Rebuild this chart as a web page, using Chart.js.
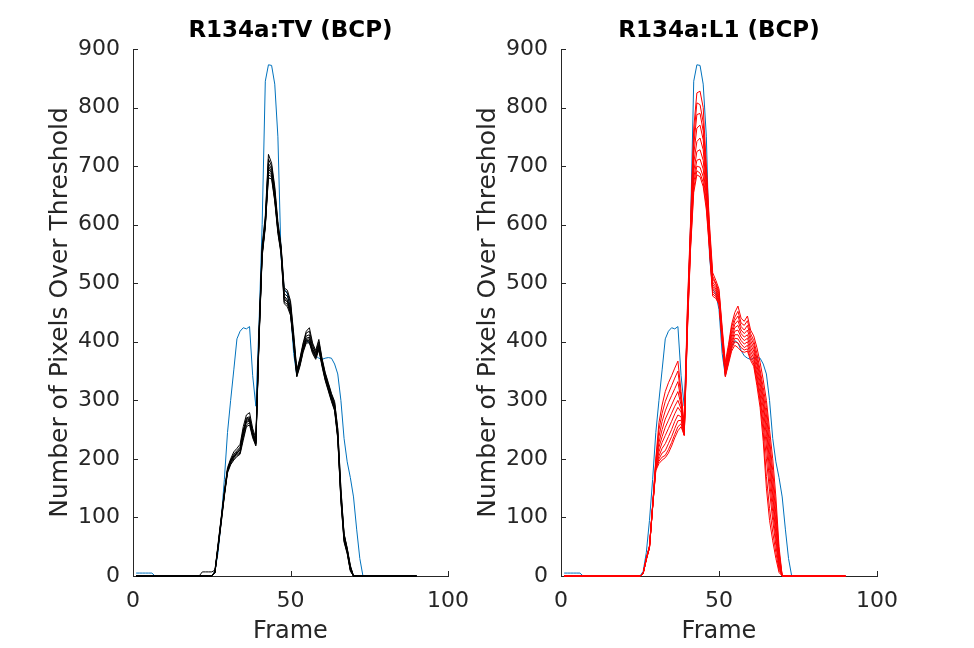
<!DOCTYPE html>
<html>
<head>
<meta charset="utf-8">
<script src="https://cdn.jsdelivr.net/npm/chart.js@4"></script>
<style>
  body { margin: 0; background: #fff; }
  #wrap { position: relative; width: 974px; height: 648px; }
  canvas { position: absolute; left: 0; top: 0; }
</style>
</head>
<body>
<div id="wrap">
  <canvas id="tvChart" width="974" height="648"></canvas>
  <canvas id="l1Chart" width="974" height="648"></canvas>
</div>
<script>
// reference curve (blue), frames 1..74
var refFrames1 = [5,5,5,5,5,5,0,
    0,0,0,0,0,0,0,0,0,0,0,0,0,0,0,0,0,0,
    8,40,95,165,245,300,352,405,418,424,422,426,342,290,
    430,600,845,873,872,840,750,545,490,482,
    455,380,342,365,392,402,398,385,376,372,
    370,372,373,372,362,345,300,235,195,168,
    135,80,30,0,0];

// runs start at frame 20 (frames 20..72)
var runStart = 20;
var lastFrame = 90;

var tv1 = [0,0,0,0,0,0, 8,55,100,145,185,200,212,218,225,255,275,279,252,235, 420,565,615,720,705,665,605,565,492,488, 470,415,352,372,398,418,424,398,385,404, 372,348,330,312,298,252,150,72,48,18, 0,0,0];
var tv2 = [0,0,7,7,7,7, 10,50,95,140,180,195,205,210,215,245,270,272,248,230, 415,560,610,712,700,660,600,562,488,484, 466,410,350,370,395,415,418,395,382,400, 370,346,328,310,296,250,148,70,46,16, 0,0,0];
var tv3 = [0,0,0,0,0,0, 6,48,92,138,178,192,200,206,210,240,266,268,245,228, 410,555,605,705,695,655,598,560,482,478, 460,405,348,368,392,410,412,392,380,396, 368,344,326,308,292,245,140,68,44,14, 0,0,0];
var tv4 = [0,0,0,0,0,0, 5,52,98,142,182,198,208,214,220,250,262,265,240,226, 405,550,600,700,690,650,595,558,478,472, 456,402,346,366,390,406,408,388,378,394, 366,342,324,306,290,242,138,72,46,16, 0,0,0];
var tv5 = [0,0,0,0,0,0, 7,50,96,140,180,196,203,208,212,236,258,262,238,224, 402,548,598,695,688,648,592,556,475,470, 452,400,345,364,388,404,405,386,376,392, 364,340,322,304,288,240,135,65,42,12, 0,0,0];
var tv6 = [0,0,0,0,0,0, 6,49,94,139,179,194,202,212,218,248,268,270,244,228, 408,552,602,690,685,645,590,555,472,468, 450,398,344,362,386,402,402,384,374,390, 362,338,320,302,286,238,132,62,40,10, 0,0,0];
var tv7 = [0,0,0,0,0,0, 5,47,90,136,176,190,198,204,208,232,255,258,236,222, 400,545,595,685,682,642,588,552,468,464, 448,396,342,360,384,400,400,382,372,388, 360,336,318,300,284,236,130,60,40,10, 0,0,0];
var tv8 = [0,0,0,0,0,0, 6,51,97,141,181,197,206,210,216,244,264,266,242,226, 406,550,600,680,678,640,585,550,465,460, 445,394,340,358,382,398,398,380,370,386, 358,334,316,298,282,234,128,58,38,8, 0,0,0];

var l1a = [0,0,0,0,0,0, 5,30,50,120,200,262,292,315,330,342,355,367,315,258, 460,605,765,825,828,800,700,600,518,505, 490,425,365,395,430,450,461,440,435,444, 420,410,390,365,335,300,250,200,135,50, 0,0,0];
var l1b = [0,0,0,0,0,0, 5,28,48,118,196,250,278,298,312,325,338,350,305,252, 452,598,748,808,805,775,690,592,512,500, 486,420,360,390,425,442,452,432,428,436, 414,402,380,352,322,288,235,180,118,42, 0,0,0];
var l1c = [0,0,0,0,0,0, 4,30,52,122,194,238,264,282,296,308,320,332,298,250, 445,590,735,788,790,760,680,585,508,498, 482,416,356,386,418,436,444,426,420,428, 408,396,372,345,312,275,222,165,105,38, 0,0,0];
var l1d = [0,0,0,0,0,0, 5,29,50,119,190,228,250,268,280,292,304,315,292,248, 440,585,720,765,770,745,672,580,502,494, 478,412,352,382,412,430,436,420,414,420, 402,390,366,338,304,262,208,150,92,32, 0,0,0];
var l1e = [0,0,0,0,0,0, 4,28,49,117,188,220,238,254,266,278,290,300,285,246, 436,580,705,742,748,728,664,575,498,490, 475,410,350,378,406,424,428,414,408,412, 396,384,360,330,295,250,195,138,82,26, 0,0,0];
var l1f = [0,0,0,0,0,0, 5,30,51,120,186,212,228,240,252,264,277,288,280,244, 432,575,690,725,728,710,655,570,494,487, 472,408,348,375,400,418,420,408,402,406, 390,378,352,322,285,238,180,125,72,22, 0,0,0];
var l1g = [0,0,0,0,0,0, 4,29,48,118,184,205,218,226,238,250,264,275,272,242, 428,570,680,710,712,695,648,566,490,484, 470,406,346,372,396,412,412,402,396,400, 384,372,345,312,272,222,162,110,62,18, 0,0,0];
var l1h = [0,0,0,0,0,0, 5,28,50,119,183,200,210,214,226,238,252,265,266,241, 424,566,672,700,698,682,640,562,486,480, 468,404,344,370,392,406,405,396,390,394, 378,366,338,304,260,200,145,95,52,14, 0,0,0];
var l1i = [0,0,0,0,0,0, 4,30,49,118,182,196,203,206,216,228,242,255,260,240, 420,562,662,692,688,672,632,558,482,477, 466,402,342,366,388,400,398,390,386,388, 372,362,332,298,245,170,115,75,40,10, 0,0,0];
var l1j = [0,0,0,0,0,0, 5,29,48,117,180,192,198,202,210,222,236,248,255,240, 416,558,655,685,682,665,625,555,478,474, 464,400,340,362,384,394,390,384,382,384, 368,358,325,288,230,150,95,60,30,6, 0,0,0];

var tvRuns = [tv1, tv2, tv3, tv4, tv5, tv6, tv7, tv8];
var l1Runs = [l1a, l1b, l1c, l1d, l1e, l1f, l1g, l1h, l1i, l1j];

var xTicks = [0, 50, 100];
var yTicks = [0, 100, 200, 300, 400, 500, 600, 700, 800, 900];

var axisGray = "#262626";
Chart.defaults.font.family = "'DejaVu Sans', sans-serif";
Chart.defaults.color = axisGray;

function toPoints(vals, start) {
    var pts = [];
    if (start > 1) pts.push({x: 1, y: 0});
    vals.forEach(function (v, i) { pts.push({x: start + i, y: v}); });
    if (start + vals.length - 1 < lastFrame) pts.push({x: lastFrame, y: 0});
    return pts;
}

function lineSet(pts, color, order) {
    return { data: pts, borderColor: color, borderWidth: 1, pointRadius: 0,
             tension: 0, fill: false, order: order, clip: false };
}

// MATLAB-style tick marks pointing into the plot
var innerTicks = {
    id: "innerTicks",
    beforeDatasetsDraw: function (chart) {
        var ctx = chart.ctx, a = chart.chartArea;
        var xs = chart.scales.x, ys = chart.scales.y;
        ctx.save();
        ctx.strokeStyle = axisGray;
        ctx.lineWidth = 1;
        ctx.beginPath();
        xTicks.forEach(function (t) {
            var px = Math.round(xs.getPixelForValue(t)) + 0.5;
            ctx.moveTo(px, a.bottom); ctx.lineTo(px, a.bottom - 5);
        });
        yTicks.forEach(function (t) {
            var py = Math.round(ys.getPixelForValue(t)) + 0.5;
            ctx.moveTo(a.left, py); ctx.lineTo(a.left + 5, py);
        });
        ctx.stroke();
        ctx.restore();
    }
};

function makeChart(id, title, runs, color, padLeft, padRight) {
    var datasets = [lineSet(toPoints(refFrames1, 1), "#0072BD", 1)];
    runs.forEach(function (r) { datasets.push(lineSet(toPoints(r, runStart), color, 0)); });

    return new Chart(id, {
        type: "line",
        data: { datasets: datasets },
        plugins: [innerTicks],
        options: {
            responsive: false,
            animation: false,
            devicePixelRatio: 1,
            layout: { padding: { left: padLeft, right: padRight, top: 0, bottom: 0 } },
            plugins: {
                legend: { display: false },
                tooltip: { enabled: false },
                title: {
                    display: true,
                    text: title,
                    fullSize: false,
                    color: "#000",
                    font: { size: 23, weight: "bold", lineHeight: 1.2 },
                    padding: { top: 17.2, bottom: 4.2 }
                }
            },
            scales: {
                x: {
                    type: "linear",
                    min: 0, max: 100,
                    afterFit: function (s) { s.height = 72; },
                    afterBuildTicks: function (s) { s.ticks = xTicks.map(function (v) { return {value: v}; }); },
                    grid: { display: false, drawTicks: false },
                    border: { display: true, color: axisGray, width: 1 },
                    ticks: { font: { size: 22 }, padding: 11.8, maxRotation: 0, color: axisGray },
                    title: { display: true, text: "Frame", font: { size: 24 }, color: axisGray,
                             padding: { top: 0, bottom: 1.8 } }
                },
                y: {
                    min: 0, max: 900,
                    afterFit: function (s) { s.width = 133; },
                    afterBuildTicks: function (s) { s.ticks = yTicks.map(function (v) { return {value: v}; }); },
                    grid: { display: false, drawTicks: false },
                    border: { display: true, color: axisGray, width: 1 },
                    ticks: { font: { size: 22 }, padding: 13, color: axisGray },
                    title: { display: true, text: "Number of Pixels Over Threshold", font: { size: 25 },
                             color: axisGray, padding: { top: 45, bottom: 0 } }
                }
            }
        }
    });
}

makeChart("tvChart", "R134a:TV (BCP)", tvRuns, "#000000", 0, 526);
makeChart("l1Chart", "R134a:L1 (BCP)", l1Runs, "#FF0000", 428, 97);
</script>
</body>
</html>
